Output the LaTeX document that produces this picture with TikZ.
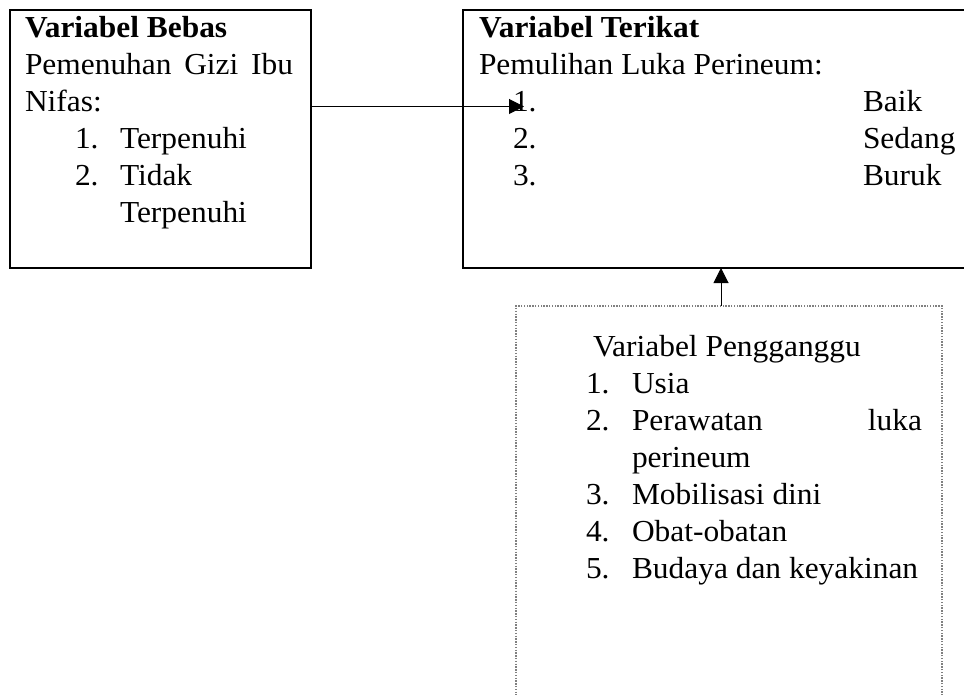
\documentclass[tikz,border=0pt]{standalone}
\usepackage{fontspec}
\setmainfont[FakeStretch=1.03]{Liberation Serif}
\usetikzlibrary{arrows.meta}
\begin{document}
\begin{tikzpicture}[x=1pt,y=-1pt,
  txt/.style={inner sep=0pt, outer sep=0pt, anchor=base west, font=\fontsize{30.5}{37}\selectfont},
  txtr/.style={txt, anchor=base east},
  solidbox/.style={draw=black, line width=1.6pt, inner sep=0pt, outer sep=0pt},
  dotbox/.style={draw=gray, dash pattern=on 1.4pt off 1.4pt, line width=1.2pt, inner sep=0pt, outer sep=0pt},
  conn/.style={draw=black, line width=1pt, -{Triangle[length=15pt,width=15pt]}}]
\useasboundingbox (0,0) rectangle (964,695);
\clip (0,0) rectangle (964,695);
% boxes
\node[solidbox, minimum width=301pt, minimum height=258pt] (bebas) at (160.5,139) {};
\node[solidbox, minimum width=540pt, minimum height=258pt] (terikat) at (733,139) {};
\node[dotbox, minimum width=426pt, minimum height=420pt] (pengganggu) at (729,516) {};
% left box text
\node[txt] (b1) at (25,38) {\textbf{Variabel Bebas}};
\node[txt] (b2) at (25,75) {\makebox[268pt][l]{Pemenuhan\hfill Gizi\hfill Ibu}};
\node[txt] (b3) at (25,112) {Nifas:};
\node[txt] (b4n) at (75,149) {1.};
\node[txt] (b4) at (120,149) {Terpenuhi};
\node[txt] (b5n) at (75,186) {2.};
\node[txt] (b5) at (120,186) {Tidak};
\node[txt] (b6) at (120,223) {Terpenuhi};
% right box text
\node[txt] (t1) at (479,38) {\textbf{Variabel Terikat}};
\node[txt] (t2) at (479,75) {Pemulihan Luka Perineum:};
\node[txt] (t3n) at (513,112) {1.};
\node[txt] (t3) at (863,112) {Baik};
\node[txt] (t4n) at (513,149) {2.};
\node[txt] (t4) at (863,149) {Sedang};
\node[txt] (t5n) at (513,186) {3.};
\node[txt] (t5) at (863,186) {Buruk};
% dotted box text
\node[txt] (p1) at (593,356) {Variabel Pengganggu};
\node[txt] (p2n) at (586,393) {1.};
\node[txt] (p2) at (632,393) {Usia};
\node[txt] (p3n) at (586,430) {2.};
\node[txt] (p3) at (632,430) {Perawatan};
\node[txtr] (p3b) at (922,430) {luka};
\node[txt] (p4) at (632,467) {perineum};
\node[txt] (p5n) at (586,504) {3.};
\node[txt] (p5) at (632,504) {Mobilisasi dini};
\node[txt] (p6n) at (586,541) {4.};
\node[txt] (p6) at (632,541) {Obat-obatan};
\node[txt] (p7n) at (586,578) {5.};
\node[txt] (p7) at (632,578) {Budaya dan keyakinan};
% connectors
\coordinate (tip1) at (524,106.5);
\draw[conn] (bebas.east |- tip1) -- (tip1);
\coordinate (ax) at (721,0);
\draw[conn] (ax |- pengganggu.north) -- (ax |- terikat.south);
\end{tikzpicture}
\end{document}
